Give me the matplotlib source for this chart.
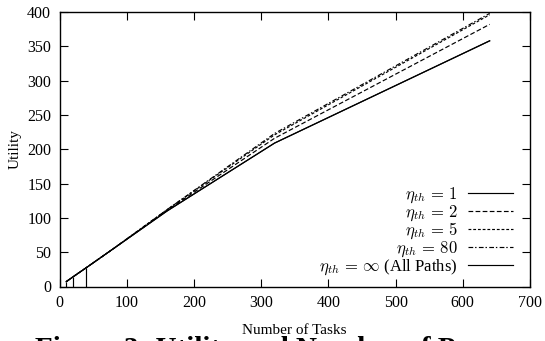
import matplotlib
matplotlib.use("Agg")
import matplotlib.pyplot as plt

plt.rcParams['font.family'] = ['Liberation Serif', 'DejaVu Serif']
plt.rcParams['mathtext.fontset'] = 'cm'

tasks = [10, 20, 40, 80, 160, 320, 640]
eta1 = [7, 14, 27.5, 55, 110, 209, 358]
eta2 = [7, 14, 27.5, 55, 111, 216, 382]
eta5 = [7, 14, 27.5, 55, 112, 221, 396]
eta80 = [7, 14, 27.5, 55, 112, 223, 398]
etainf = [7, 14, 27.5, 55, 110, 209, 358]
impulse_x = [10, 20, 40]
impulse_y = [7, 14, 27.5]

labels = [r'$\eta_{th}\,=\,1$', r'$\eta_{th}\,=\,2$', r'$\eta_{th}\,=\,5$',
          r'$\eta_{th}\,=\,80$', r'$\eta_{th}\,=\,\infty$ (All Paths)']

fig = plt.figure(figsize=(5.45, 3.41), dpi=100)
ax = fig.add_axes([59.5/545, 1-286.5/341, (530-59.5)/545, (286.5-12)/341])

lw = 0.85
ax.plot(tasks, eta1, color='black', lw=lw, ls='-', label=labels[0])
ax.plot(tasks, eta2, color='black', lw=lw, ls=(0, (4, 2)), label=labels[1])
ax.plot(tasks, eta5, color='black', lw=lw, ls=(0, (2.4, 1.6)), label=labels[2])
ax.plot(tasks, eta80, color='black', lw=lw, ls=(0, (4, 1.6, 1.2, 2)), label=labels[3])
ax.plot(tasks, etainf, color='black', lw=lw, ls='-', label=labels[4])
ax.vlines(impulse_x, 0, impulse_y, color='black', lw=lw)

ax.set_xlim(0, 700)
ax.set_ylim(0, 400)
ax.set_xticks(range(0, 701, 100))
ax.set_yticks(range(0, 401, 50))
ax.tick_params(direction='in', length=6, width=0.8, top=True, right=True,
               labelsize=11.5, pad=6)
for s in ax.spines.values():
    s.set_linewidth(1.0)

ax.set_xlabel('Number of Tasks', fontsize=11, va='center')
ax.xaxis.set_label_coords(0.5, (286.5 - 330) / 274.5)
ax.set_ylabel('Utility', fontsize=11, labelpad=4)

leg = ax.legend(loc='lower right', bbox_to_anchor=(0.9639, 0.035), frameon=False,
                markerfirst=False, fontsize=12, handlelength=2.7,
                labelspacing=-0.1, handletextpad=0.6, borderaxespad=0,
                borderpad=0)
for t in leg.get_texts():
    t.set_ha('right')
leg._legend_box.align = 'right'

fig.text(35/545, -16/341, 'Figure 3: Utility and Number of Processors', ha='left',
         va='baseline', fontsize=21, fontweight='bold')

fig.savefig('out.png', dpi=100)
